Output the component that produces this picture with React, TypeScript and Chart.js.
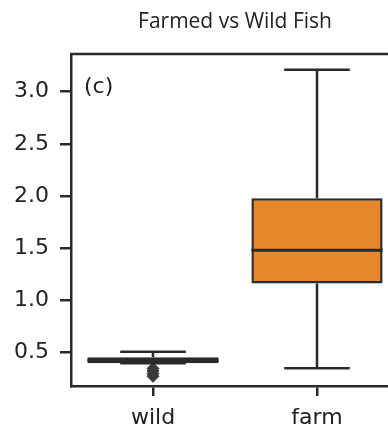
import React, { useEffect, useRef } from "react";
import { Chart, registerables } from "chart.js";

Chart.register(...registerables);

const categories = ["wild", "farm"];
const whiskerLow = [0.395, 0.347];
const q1 = [0.395, 1.16];
const median = [0.423, 1.48];
const q3 = [0.452, 1.977];
const whiskerHigh = [0.505, 3.21];
const wildOutliers = [0.345, 0.32, 0.295, 0.27];
const yTicks = [0.5, 1.0, 1.5, 2.0, 2.5, 3.0];
const boxColors = ["#3c3c3c", "#e8862a"];
const titleText = "Farmed vs Wild Fish";
const panelLabel = "(c)";

const LINE = "#2a2a2a";
const TICK_FONT = { family: "'DejaVu Sans'", size: 22 };

const boxPlugin = {
  id: "boxExtras",
  afterDatasetsDraw(chart: any) {
    const { ctx, scales } = chart;
    const xs = scales.x;
    const ys = scales.y;
    const meta = chart.getDatasetMeta(0);
    ctx.save();
    ctx.strokeStyle = LINE;
    ctx.lineWidth = 2.5;
    categories.forEach((_, i) => {
      const bar = meta.data[i];
      const cx = xs.getPixelForValue(i);
      const w = bar.width;
      ctx.beginPath();
      ctx.moveTo(cx, ys.getPixelForValue(q3[i]));
      ctx.lineTo(cx, ys.getPixelForValue(whiskerHigh[i]));
      ctx.moveTo(cx, ys.getPixelForValue(q1[i]));
      ctx.lineTo(cx, ys.getPixelForValue(whiskerLow[i]));
      ctx.moveTo(cx - w / 4, ys.getPixelForValue(whiskerHigh[i]));
      ctx.lineTo(cx + w / 4, ys.getPixelForValue(whiskerHigh[i]));
      ctx.moveTo(cx - w / 4, ys.getPixelForValue(whiskerLow[i]));
      ctx.lineTo(cx + w / 4, ys.getPixelForValue(whiskerLow[i]));
      ctx.stroke();
      ctx.beginPath();
      ctx.lineWidth = 3;
      ctx.moveTo(cx - w / 2, ys.getPixelForValue(median[i]));
      ctx.lineTo(cx + w / 2, ys.getPixelForValue(median[i]));
      ctx.stroke();
      ctx.lineWidth = 2.5;
    });
    ctx.restore();
  },
  afterDraw(chart: any) {
    const { ctx, chartArea } = chart;
    ctx.save();
    ctx.strokeStyle = LINE;
    ctx.lineWidth = 2.5;
    ctx.beginPath();
    ctx.moveTo(chartArea.left - 1, chartArea.top);
    ctx.lineTo(chartArea.right, chartArea.top);
    ctx.stroke();
    ctx.fillStyle = "#222";
    ctx.font = "21px 'Open Sans'";
    ctx.textAlign = "center";
    ctx.textBaseline = "middle";
    ctx.fillText(titleText, (chartArea.left + chartArea.right) / 2, 22);
    ctx.font = "22px 'DejaVu Sans'";
    ctx.textAlign = "left";
    ctx.fillText(panelLabel, chartArea.left + 13, 87);
    ctx.restore();
  },
};

export default function App() {
  const ref = useRef<HTMLCanvasElement>(null);
  useEffect(() => {
    document.body.style.margin = "0";
    const chart = new Chart(ref.current!, {
      type: "bar",
      data: {
        labels: categories,
        datasets: [
          {
            type: "bar",
            data: categories.map((_, i) => [q1[i], q3[i]]) as any,
            backgroundColor: boxColors,
            borderColor: LINE,
            borderWidth: 2.5,
            borderSkipped: false,
            barPercentage: 0.8,
            categoryPercentage: 1.0,
          },
          {
            type: "line",
            data: wildOutliers.map((v) => ({ x: "wild", y: v })) as any,
            showLine: false,
            pointStyle: "rectRot",
            pointRadius: 6,
            backgroundColor: "#3a3a3a",
            borderColor: "#3a3a3a",
          } as any,
        ],
      },
      options: {
        animation: false,
        responsive: false,
        layout: { padding: { top: 54, right: 11, left: 0, bottom: 0 } },
        plugins: { legend: { display: false }, tooltip: { enabled: false }, title: { display: false } },
        scales: {
          x: {
            type: "category",
            offset: true,
            grid: { offset: false, drawOnChartArea: false, drawTicks: true, tickLength: 10, color: LINE, lineWidth: 2.5 },
            border: { display: true, color: LINE, width: 2.5 },
            ticks: { font: TICK_FONT, color: "#222", padding: 9 },
            afterFit: (s: any) => { s.height = 40; },
          },
          y: {
            type: "linear",
            min: 0.177,
            max: 3.362,
            afterBuildTicks: (s: any) => { s.ticks = yTicks.map((v) => ({ value: v })); },
            grid: { drawOnChartArea: false, drawTicks: true, tickLength: 11, color: LINE, lineWidth: 2.5 },
            border: { display: true, color: LINE, width: 2.5 },
            ticks: { font: TICK_FONT, color: "#222", padding: 11, callback: (v: any) => Number(v).toFixed(1) },
            afterFit: (s: any) => { s.width = 71; },
          },
        },
      },
      plugins: [boxPlugin],
    });
    return () => chart.destroy();
  }, []);
  return (
    <div style={{ position: "fixed", left: 0, top: 0, width: 388, height: 426, overflow: "hidden", background: "#fff" }}>
      <canvas ref={ref} width={410} height={426} style={{ display: "block" }} />
    </div>
  );
}
